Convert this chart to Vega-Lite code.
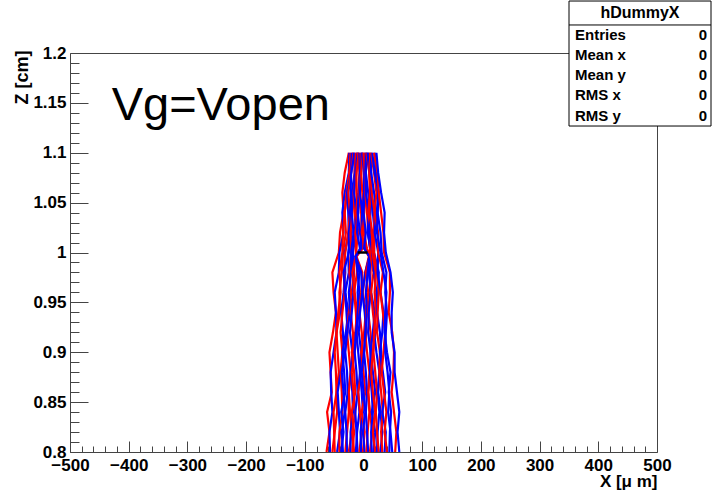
{
"$schema": "https://vega.github.io/schema/vega-lite/v6.json",
"width": 587, "height": 399,
"autosize": {"type": "none"},
"padding": {"left": 70, "top": 53, "right": 56, "bottom": 42},
"background": "white",
"config": {"view": {"stroke": "#444", "strokeWidth": 1}},
"datasets": {
"traj": [
{"t":1,"c":"r","z":0.8,"x":-63},{"t":1,"c":"r","z":0.82,"x":-58},{"t":1,"c":"r","z":0.84,"x":-62},{"t":1,"c":"r","z":0.86,"x":-54},{"t":1,"c":"r","z":0.88,"x":-56},{"t":1,"c":"r","z":0.9,"x":-58},{"t":1,"c":"r","z":0.92,"x":-52},{"t":1,"c":"r","z":0.94,"x":-47},{"t":1,"c":"r","z":0.96,"x":-51},{"t":1,"c":"r","z":0.98,"x":-53},{"t":1,"c":"r","z":1.0,"x":-42},{"t":1,"c":"r","z":1.02,"x":-40},{"t":1,"c":"r","z":1.04,"x":-34},{"t":1,"c":"r","z":1.06,"x":-36},{"t":1,"c":"r","z":1.08,"x":-32},{"t":1,"c":"r","z":1.1,"x":-25},
{"t":2,"c":"b","z":0.8,"x":-57},{"t":2,"c":"b","z":0.82,"x":-58},{"t":2,"c":"b","z":0.84,"x":-53},{"t":2,"c":"b","z":0.86,"x":-55},{"t":2,"c":"b","z":0.88,"x":-56},{"t":2,"c":"b","z":0.9,"x":-51},{"t":2,"c":"b","z":0.92,"x":-46},{"t":2,"c":"b","z":0.94,"x":-47},{"t":2,"c":"b","z":0.96,"x":-49},{"t":2,"c":"b","z":0.98,"x":-42},{"t":2,"c":"b","z":1.0,"x":-41},{"t":2,"c":"b","z":1.02,"x":-34},{"t":2,"c":"b","z":1.04,"x":-36},{"t":2,"c":"b","z":1.06,"x":-32},{"t":2,"c":"b","z":1.08,"x":-25},{"t":2,"c":"b","z":1.1,"x":-24},
{"t":3,"c":"r","z":0.8,"x":-53},{"t":3,"c":"r","z":0.82,"x":-49},{"t":3,"c":"r","z":0.84,"x":-45},{"t":3,"c":"r","z":0.86,"x":-46},{"t":3,"c":"r","z":0.88,"x":-42},{"t":3,"c":"r","z":0.9,"x":-44},{"t":3,"c":"r","z":0.92,"x":-46},{"t":3,"c":"r","z":0.94,"x":-43},{"t":3,"c":"r","z":0.96,"x":-39},{"t":3,"c":"r","z":0.98,"x":-41},{"t":3,"c":"r","z":1.0,"x":-36},{"t":3,"c":"r","z":1.02,"x":-35},{"t":3,"c":"r","z":1.04,"x":-32},{"t":3,"c":"r","z":1.06,"x":-28},{"t":3,"c":"r","z":1.08,"x":-24},{"t":3,"c":"r","z":1.1,"x":-22},
{"t":4,"c":"r","z":0.8,"x":-49},{"t":4,"c":"r","z":0.82,"x":-50},{"t":4,"c":"r","z":0.84,"x":-51},{"t":4,"c":"r","z":0.86,"x":-46},{"t":4,"c":"r","z":0.88,"x":-47},{"t":4,"c":"r","z":0.9,"x":-49},{"t":4,"c":"r","z":0.92,"x":-46},{"t":4,"c":"r","z":0.94,"x":-40},{"t":4,"c":"r","z":0.96,"x":-41},{"t":4,"c":"r","z":0.98,"x":-37},{"t":4,"c":"r","z":1.0,"x":-35},{"t":4,"c":"r","z":1.02,"x":-30},{"t":4,"c":"r","z":1.04,"x":-32},{"t":4,"c":"r","z":1.06,"x":-29},{"t":4,"c":"r","z":1.08,"x":-24},{"t":4,"c":"r","z":1.1,"x":-18},
{"t":5,"c":"b","z":0.8,"x":-45},{"t":5,"c":"b","z":0.82,"x":-40},{"t":5,"c":"b","z":0.84,"x":-42},{"t":5,"c":"b","z":0.86,"x":-44},{"t":5,"c":"b","z":0.88,"x":-39},{"t":5,"c":"b","z":0.9,"x":-34},{"t":5,"c":"b","z":0.92,"x":-35},{"t":5,"c":"b","z":0.94,"x":-38},{"t":5,"c":"b","z":0.96,"x":-34},{"t":5,"c":"b","z":0.98,"x":-31},{"t":5,"c":"b","z":1.0,"x":-32},{"t":5,"c":"b","z":1.02,"x":-25},{"t":5,"c":"b","z":1.04,"x":-26},{"t":5,"c":"b","z":1.06,"x":-28},{"t":5,"c":"b","z":1.08,"x":-21},{"t":5,"c":"b","z":1.1,"x":-20},
{"t":6,"c":"r","z":0.8,"x":-41},{"t":6,"c":"r","z":0.82,"x":-41},{"t":6,"c":"r","z":0.84,"x":-36},{"t":6,"c":"r","z":0.86,"x":-37},{"t":6,"c":"r","z":0.88,"x":-39},{"t":6,"c":"r","z":0.9,"x":-36},{"t":6,"c":"r","z":0.92,"x":-39},{"t":6,"c":"r","z":0.94,"x":-36},{"t":6,"c":"r","z":0.96,"x":-32},{"t":6,"c":"r","z":0.98,"x":-33},{"t":6,"c":"r","z":1.0,"x":-31},{"t":6,"c":"r","z":1.02,"x":-26},{"t":6,"c":"r","z":1.04,"x":-23},{"t":6,"c":"r","z":1.06,"x":-26},{"t":6,"c":"r","z":1.08,"x":-21},{"t":6,"c":"r","z":1.1,"x":-17},
{"t":7,"c":"b","z":0.8,"x":-38},{"t":7,"c":"b","z":0.82,"x":-34},{"t":7,"c":"b","z":0.84,"x":-38},{"t":7,"c":"b","z":0.86,"x":-31},{"t":7,"c":"b","z":0.88,"x":-33},{"t":7,"c":"b","z":0.9,"x":-36},{"t":7,"c":"b","z":0.92,"x":-30},{"t":7,"c":"b","z":0.94,"x":-26},{"t":7,"c":"b","z":0.96,"x":-31},{"t":7,"c":"b","z":0.98,"x":-34},{"t":7,"c":"b","z":1.0,"x":-25},{"t":7,"c":"b","z":1.02,"x":-25},{"t":7,"c":"b","z":1.04,"x":-20},{"t":7,"c":"b","z":1.06,"x":-22},{"t":7,"c":"b","z":1.08,"x":-21},{"t":7,"c":"b","z":1.1,"x":-15},
{"t":8,"c":"b","z":0.8,"x":-35},{"t":8,"c":"b","z":0.82,"x":-37},{"t":8,"c":"b","z":0.84,"x":-32},{"t":8,"c":"b","z":0.86,"x":-34},{"t":8,"c":"b","z":0.88,"x":-37},{"t":8,"c":"b","z":0.9,"x":-32},{"t":8,"c":"b","z":0.92,"x":-27},{"t":8,"c":"b","z":0.94,"x":-29},{"t":8,"c":"b","z":0.96,"x":-31},{"t":8,"c":"b","z":0.98,"x":-25},{"t":8,"c":"b","z":1.0,"x":-26},{"t":8,"c":"b","z":1.02,"x":-20},{"t":8,"c":"b","z":1.04,"x":-23},{"t":8,"c":"b","z":1.06,"x":-20},{"t":8,"c":"b","z":1.08,"x":-15},{"t":8,"c":"b","z":1.1,"x":-16},
{"t":9,"c":"r","z":0.8,"x":-31},{"t":9,"c":"r","z":0.82,"x":-28},{"t":9,"c":"r","z":0.84,"x":-25},{"t":9,"c":"r","z":0.86,"x":-26},{"t":9,"c":"r","z":0.88,"x":-22},{"t":9,"c":"r","z":0.9,"x":-25},{"t":9,"c":"r","z":0.92,"x":-28},{"t":9,"c":"r","z":0.94,"x":-25},{"t":9,"c":"r","z":0.96,"x":-21},{"t":9,"c":"r","z":0.98,"x":-24},{"t":9,"c":"r","z":1.0,"x":-21},{"t":9,"c":"r","z":1.02,"x":-22},{"t":9,"c":"r","z":1.04,"x":-19},{"t":9,"c":"r","z":1.06,"x":-16},{"t":9,"c":"r","z":1.08,"x":-15},{"t":9,"c":"r","z":1.1,"x":-13},
{"t":10,"c":"b","z":0.8,"x":-28},{"t":10,"c":"b","z":0.82,"x":-29},{"t":10,"c":"b","z":0.84,"x":-31},{"t":10,"c":"b","z":0.86,"x":-27},{"t":10,"c":"b","z":0.88,"x":-28},{"t":10,"c":"b","z":0.9,"x":-31},{"t":10,"c":"b","z":0.92,"x":-28},{"t":10,"c":"b","z":0.94,"x":-23},{"t":10,"c":"b","z":0.96,"x":-25},{"t":10,"c":"b","z":0.98,"x":-21},{"t":10,"c":"b","z":1.0,"x":-21},{"t":10,"c":"b","z":1.02,"x":-17},{"t":10,"c":"b","z":1.04,"x":-20},{"t":10,"c":"b","z":1.06,"x":-18},{"t":10,"c":"b","z":1.08,"x":-14},{"t":10,"c":"b","z":1.1,"x":-10},
{"t":11,"c":"r","z":0.8,"x":-25},{"t":11,"c":"r","z":0.82,"x":-20},{"t":11,"c":"r","z":0.84,"x":-23},{"t":11,"c":"r","z":0.86,"x":-25},{"t":11,"c":"r","z":0.88,"x":-21},{"t":11,"c":"r","z":0.9,"x":-17},{"t":11,"c":"r","z":0.92,"x":-18},{"t":11,"c":"r","z":0.94,"x":-22},{"t":11,"c":"r","z":0.96,"x":-18},{"t":11,"c":"r","z":0.98,"x":-16},{"t":11,"c":"r","z":1.0,"x":-18},{"t":11,"c":"r","z":1.02,"x":-13},{"t":11,"c":"r","z":1.04,"x":-15},{"t":11,"c":"r","z":1.06,"x":-17},{"t":11,"c":"r","z":1.08,"x":-12},{"t":11,"c":"r","z":1.1,"x":-12},
{"t":12,"c":"b","z":0.8,"x":-22},{"t":12,"c":"b","z":0.82,"x":-22},{"t":12,"c":"b","z":0.84,"x":-18},{"t":12,"c":"b","z":0.86,"x":-19},{"t":12,"c":"b","z":0.88,"x":-22},{"t":12,"c":"b","z":0.9,"x":-19},{"t":12,"c":"b","z":0.92,"x":-23},{"t":12,"c":"b","z":0.94,"x":-20},{"t":12,"c":"b","z":0.96,"x":-17},{"t":12,"c":"b","z":0.98,"x":-18},{"t":12,"c":"b","z":1.0,"x":-18},{"t":12,"c":"b","z":1.02,"x":-15},{"t":12,"c":"b","z":1.04,"x":-12},{"t":12,"c":"b","z":1.06,"x":-16},{"t":12,"c":"b","z":1.08,"x":-13},{"t":12,"c":"b","z":1.1,"x":-10},
{"t":13,"c":"r","z":0.8,"x":-19},{"t":13,"c":"r","z":0.82,"x":-16},{"t":13,"c":"r","z":0.84,"x":-20},{"t":13,"c":"r","z":0.86,"x":-14},{"t":13,"c":"r","z":0.88,"x":-16},{"t":13,"c":"r","z":0.9,"x":-20},{"t":13,"c":"r","z":0.92,"x":-14},{"t":13,"c":"r","z":0.94,"x":-11},{"t":13,"c":"r","z":0.96,"x":-15},{"t":13,"c":"r","z":0.98,"x":-19},{"t":13,"c":"r","z":1.0,"x":-12},{"t":13,"c":"r","z":1.02,"x":-14},{"t":13,"c":"r","z":1.04,"x":-9},{"t":13,"c":"r","z":1.06,"x":-12},{"t":13,"c":"r","z":1.08,"x":-12},{"t":13,"c":"r","z":1.1,"x":-8},
{"t":14,"c":"r","z":0.8,"x":-16},{"t":14,"c":"r","z":0.82,"x":-19},{"t":14,"c":"r","z":0.84,"x":-14},{"t":14,"c":"r","z":0.86,"x":-17},{"t":14,"c":"r","z":0.88,"x":-20},{"t":14,"c":"r","z":0.9,"x":-15},{"t":14,"c":"r","z":0.92,"x":-11},{"t":14,"c":"r","z":0.94,"x":-13},{"t":14,"c":"r","z":0.96,"x":-16},{"t":14,"c":"r","z":0.98,"x":-11},{"t":14,"c":"r","z":1.0,"x":-13},{"t":14,"c":"r","z":1.02,"x":-9},{"t":14,"c":"r","z":1.04,"x":-13},{"t":14,"c":"r","z":1.06,"x":-9},{"t":14,"c":"r","z":1.08,"x":-7},{"t":14,"c":"r","z":1.1,"x":-9},
{"t":15,"c":"b","z":0.8,"x":-13},{"t":15,"c":"b","z":0.82,"x":-11},{"t":15,"c":"b","z":0.84,"x":-7},{"t":15,"c":"b","z":0.86,"x":-9},{"t":15,"c":"b","z":0.88,"x":-6},{"t":15,"c":"b","z":0.9,"x":-9},{"t":15,"c":"b","z":0.92,"x":-12},{"t":15,"c":"b","z":0.94,"x":-10},{"t":15,"c":"b","z":0.96,"x":-7},{"t":15,"c":"b","z":0.98,"x":-10},{"t":15,"c":"b","z":0.996,"x":-13},{"t":15,"c":"b","z":1.004,"x":-6},{"t":15,"c":"b","z":1.02,"x":-11},{"t":15,"c":"b","z":1.04,"x":-9},{"t":15,"c":"b","z":1.06,"x":-6},{"t":15,"c":"b","z":1.08,"x":-6},{"t":15,"c":"b","z":1.1,"x":-7},
{"t":16,"c":"b","z":0.8,"x":-10},{"t":16,"c":"b","z":0.82,"x":-12},{"t":16,"c":"b","z":0.84,"x":-14},{"t":16,"c":"b","z":0.86,"x":-10},{"t":16,"c":"b","z":0.88,"x":-12},{"t":16,"c":"b","z":0.9,"x":-15},{"t":16,"c":"b","z":0.92,"x":-13},{"t":16,"c":"b","z":0.94,"x":-8},{"t":16,"c":"b","z":0.96,"x":-10},{"t":16,"c":"b","z":0.98,"x":-7},{"t":16,"c":"b","z":0.996,"x":-14},{"t":16,"c":"b","z":1.004,"x":-3},{"t":16,"c":"b","z":1.02,"x":-6},{"t":16,"c":"b","z":1.04,"x":-10},{"t":16,"c":"b","z":1.06,"x":-8},{"t":16,"c":"b","z":1.08,"x":-6},{"t":16,"c":"b","z":1.1,"x":-3},
{"t":17,"c":"r","z":0.8,"x":-7},{"t":17,"c":"r","z":0.82,"x":-3},{"t":17,"c":"r","z":0.84,"x":-6},{"t":17,"c":"r","z":0.86,"x":-9},{"t":17,"c":"r","z":0.88,"x":-4},{"t":17,"c":"r","z":0.9,"x":-1},{"t":17,"c":"r","z":0.92,"x":-3},{"t":17,"c":"r","z":0.94,"x":-7},{"t":17,"c":"r","z":0.96,"x":-4},{"t":17,"c":"r","z":0.98,"x":-2},{"t":17,"c":"r","z":0.996,"x":-12},{"t":17,"c":"r","z":1.004,"x":-1},{"t":17,"c":"r","z":1.02,"x":-3},{"t":17,"c":"r","z":1.04,"x":-4},{"t":17,"c":"r","z":1.06,"x":-7},{"t":17,"c":"r","z":1.08,"x":-4},{"t":17,"c":"r","z":1.1,"x":-5},
{"t":18,"c":"b","z":0.8,"x":-4},{"t":18,"c":"b","z":0.82,"x":-5},{"t":18,"c":"b","z":0.84,"x":-1},{"t":18,"c":"b","z":0.86,"x":-3},{"t":18,"c":"b","z":0.88,"x":-6},{"t":18,"c":"b","z":0.9,"x":-4},{"t":18,"c":"b","z":0.92,"x":-8},{"t":18,"c":"b","z":0.94,"x":-6},{"t":18,"c":"b","z":0.96,"x":-2},{"t":18,"c":"b","z":0.98,"x":-4},{"t":18,"c":"b","z":0.996,"x":-13},{"t":18,"c":"b","z":1.004,"x":-4},{"t":18,"c":"b","z":1.02,"x":-4},{"t":18,"c":"b","z":1.04,"x":-2},{"t":18,"c":"b","z":1.06,"x":-6},{"t":18,"c":"b","z":1.08,"x":-4},{"t":18,"c":"b","z":1.1,"x":-3},
{"t":19,"c":"r","z":0.8,"x":-1},{"t":19,"c":"r","z":0.82,"x":2},{"t":19,"c":"r","z":0.84,"x":-3},{"t":19,"c":"r","z":0.86,"x":3},{"t":19,"c":"r","z":0.88,"x":0},{"t":19,"c":"r","z":0.9,"x":-4},{"t":19,"c":"r","z":0.92,"x":1},{"t":19,"c":"r","z":0.94,"x":4},{"t":19,"c":"r","z":0.96,"x":-1},{"t":19,"c":"r","z":0.98,"x":3},{"t":19,"c":"r","z":0.996,"x":9},{"t":19,"c":"r","z":1.004,"x":2},{"t":19,"c":"r","z":1.02,"x":-3},{"t":19,"c":"r","z":1.04,"x":1},{"t":19,"c":"r","z":1.06,"x":-2},{"t":19,"c":"r","z":1.08,"x":-4},{"t":19,"c":"r","z":1.1,"x":-1},
{"t":20,"c":"b","z":0.8,"x":2},{"t":20,"c":"b","z":0.82,"x":-1},{"t":20,"c":"b","z":0.84,"x":3},{"t":20,"c":"b","z":0.86,"x":0},{"t":20,"c":"b","z":0.88,"x":-3},{"t":20,"c":"b","z":0.9,"x":1},{"t":20,"c":"b","z":0.92,"x":5},{"t":20,"c":"b","z":0.94,"x":2},{"t":20,"c":"b","z":0.96,"x":-2},{"t":20,"c":"b","z":0.98,"x":3},{"t":20,"c":"b","z":0.996,"x":10},{"t":20,"c":"b","z":1.004,"x":4},{"t":20,"c":"b","z":1.02,"x":2},{"t":20,"c":"b","z":1.04,"x":-2},{"t":20,"c":"b","z":1.06,"x":1},{"t":20,"c":"b","z":1.08,"x":1},{"t":20,"c":"b","z":1.1,"x":-2},
{"t":21,"c":"r","z":0.8,"x":5},{"t":21,"c":"r","z":0.82,"x":7},{"t":21,"c":"r","z":0.84,"x":10},{"t":21,"c":"r","z":0.86,"x":8},{"t":21,"c":"r","z":0.88,"x":10},{"t":21,"c":"r","z":0.9,"x":6},{"t":21,"c":"r","z":0.92,"x":3},{"t":21,"c":"r","z":0.94,"x":5},{"t":21,"c":"r","z":0.96,"x":8},{"t":21,"c":"r","z":0.98,"x":4},{"t":21,"c":"r","z":0.996,"x":11},{"t":21,"c":"r","z":1.004,"x":6},{"t":21,"c":"r","z":1.02,"x":0},{"t":21,"c":"r","z":1.04,"x":1},{"t":21,"c":"r","z":1.06,"x":4},{"t":21,"c":"r","z":1.08,"x":2},{"t":21,"c":"r","z":1.1,"x":0},
{"t":22,"c":"b","z":0.8,"x":8},{"t":22,"c":"b","z":0.82,"x":6},{"t":22,"c":"b","z":0.84,"x":4},{"t":22,"c":"b","z":0.86,"x":6},{"t":22,"c":"b","z":0.88,"x":4},{"t":22,"c":"b","z":0.9,"x":1},{"t":22,"c":"b","z":0.92,"x":3},{"t":22,"c":"b","z":0.94,"x":6},{"t":22,"c":"b","z":0.96,"x":4},{"t":22,"c":"b","z":0.98,"x":7},{"t":22,"c":"b","z":0.996,"x":10},{"t":22,"c":"b","z":1.004,"x":1},{"t":22,"c":"b","z":1.02,"x":4},{"t":22,"c":"b","z":1.04,"x":0},{"t":22,"c":"b","z":1.06,"x":2},{"t":22,"c":"b","z":1.08,"x":2},{"t":22,"c":"b","z":1.1,"x":3},
{"t":23,"c":"r","z":0.8,"x":11},{"t":23,"c":"r","z":0.82,"x":15},{"t":23,"c":"r","z":0.84,"x":11},{"t":23,"c":"r","z":0.86,"x":8},{"t":23,"c":"r","z":0.88,"x":12},{"t":23,"c":"r","z":0.9,"x":14},{"t":23,"c":"r","z":0.92,"x":12},{"t":23,"c":"r","z":0.94,"x":8},{"t":23,"c":"r","z":0.96,"x":11},{"t":23,"c":"r","z":0.98,"x":12},{"t":23,"c":"r","z":1.0,"x":12},{"t":23,"c":"r","z":1.02,"x":8},{"t":23,"c":"r","z":1.04,"x":6},{"t":23,"c":"r","z":1.06,"x":3},{"t":23,"c":"r","z":1.08,"x":4},{"t":23,"c":"r","z":1.1,"x":2},
{"t":24,"c":"b","z":0.8,"x":14},{"t":24,"c":"b","z":0.82,"x":13},{"t":24,"c":"b","z":0.84,"x":16},{"t":24,"c":"b","z":0.86,"x":14},{"t":24,"c":"b","z":0.88,"x":11},{"t":24,"c":"b","z":0.9,"x":12},{"t":24,"c":"b","z":0.92,"x":8},{"t":24,"c":"b","z":0.94,"x":9},{"t":24,"c":"b","z":0.96,"x":12},{"t":24,"c":"b","z":0.98,"x":10},{"t":24,"c":"b","z":1.0,"x":13},{"t":24,"c":"b","z":1.02,"x":7},{"t":24,"c":"b","z":1.04,"x":9},{"t":24,"c":"b","z":1.06,"x":4},{"t":24,"c":"b","z":1.08,"x":4},{"t":24,"c":"b","z":1.1,"x":4},
{"t":25,"c":"b","z":0.8,"x":17},{"t":25,"c":"b","z":0.82,"x":20},{"t":25,"c":"b","z":0.84,"x":14},{"t":25,"c":"b","z":0.86,"x":20},{"t":25,"c":"b","z":0.88,"x":16},{"t":25,"c":"b","z":0.9,"x":12},{"t":25,"c":"b","z":0.92,"x":16},{"t":25,"c":"b","z":0.94,"x":19},{"t":25,"c":"b","z":0.96,"x":13},{"t":25,"c":"b","z":0.98,"x":9},{"t":25,"c":"b","z":1.0,"x":12},{"t":25,"c":"b","z":1.02,"x":8},{"t":25,"c":"b","z":1.04,"x":11},{"t":25,"c":"b","z":1.06,"x":8},{"t":25,"c":"b","z":1.08,"x":4},{"t":25,"c":"b","z":1.1,"x":6},
{"t":26,"c":"r","z":0.8,"x":20},{"t":26,"c":"r","z":0.82,"x":16},{"t":26,"c":"r","z":0.84,"x":20},{"t":26,"c":"r","z":0.86,"x":16},{"t":26,"c":"r","z":0.88,"x":13},{"t":26,"c":"r","z":0.9,"x":16},{"t":26,"c":"r","z":0.92,"x":20},{"t":26,"c":"r","z":0.94,"x":16},{"t":26,"c":"r","z":0.96,"x":13},{"t":26,"c":"r","z":0.98,"x":17},{"t":26,"c":"r","z":1.0,"x":11},{"t":26,"c":"r","z":1.02,"x":13},{"t":26,"c":"r","z":1.04,"x":8},{"t":26,"c":"r","z":1.06,"x":11},{"t":26,"c":"r","z":1.08,"x":10},{"t":26,"c":"r","z":1.1,"x":5},
{"t":27,"c":"b","z":0.8,"x":23},{"t":27,"c":"b","z":0.82,"x":24},{"t":27,"c":"b","z":0.84,"x":27},{"t":27,"c":"b","z":0.86,"x":24},{"t":27,"c":"b","z":0.88,"x":27},{"t":27,"c":"b","z":0.9,"x":22},{"t":27,"c":"b","z":0.92,"x":18},{"t":27,"c":"b","z":0.94,"x":20},{"t":27,"c":"b","z":0.96,"x":22},{"t":27,"c":"b","z":0.98,"x":18},{"t":27,"c":"b","z":1.0,"x":15},{"t":27,"c":"b","z":1.02,"x":10},{"t":27,"c":"b","z":1.04,"x":12},{"t":27,"c":"b","z":1.06,"x":14},{"t":27,"c":"b","z":1.08,"x":10},{"t":27,"c":"b","z":1.1,"x":7},
{"t":28,"c":"r","z":0.8,"x":26},{"t":28,"c":"r","z":0.82,"x":23},{"t":28,"c":"r","z":0.84,"x":21},{"t":28,"c":"r","z":0.86,"x":23},{"t":28,"c":"r","z":0.88,"x":20},{"t":28,"c":"r","z":0.9,"x":17},{"t":28,"c":"r","z":0.92,"x":18},{"t":28,"c":"r","z":0.94,"x":21},{"t":28,"c":"r","z":0.96,"x":19},{"t":28,"c":"r","z":0.98,"x":21},{"t":28,"c":"r","z":1.0,"x":15},{"t":28,"c":"r","z":1.02,"x":15},{"t":28,"c":"r","z":1.04,"x":10},{"t":28,"c":"r","z":1.06,"x":12},{"t":28,"c":"r","z":1.08,"x":10},{"t":28,"c":"r","z":1.1,"x":10},
{"t":29,"c":"b","z":0.8,"x":29},{"t":29,"c":"b","z":0.82,"x":32},{"t":29,"c":"b","z":0.84,"x":29},{"t":29,"c":"b","z":0.86,"x":25},{"t":29,"c":"b","z":0.88,"x":28},{"t":29,"c":"b","z":0.9,"x":30},{"t":29,"c":"b","z":0.92,"x":28},{"t":29,"c":"b","z":0.94,"x":23},{"t":29,"c":"b","z":0.96,"x":25},{"t":29,"c":"b","z":0.98,"x":26},{"t":29,"c":"b","z":1.0,"x":18},{"t":29,"c":"b","z":1.02,"x":19},{"t":29,"c":"b","z":1.04,"x":16},{"t":29,"c":"b","z":1.06,"x":13},{"t":29,"c":"b","z":1.08,"x":13},{"t":29,"c":"b","z":1.1,"x":8},
{"t":30,"c":"r","z":0.8,"x":32},{"t":30,"c":"r","z":0.82,"x":30},{"t":30,"c":"r","z":0.84,"x":33},{"t":30,"c":"r","z":0.86,"x":30},{"t":30,"c":"r","z":0.88,"x":27},{"t":30,"c":"r","z":0.9,"x":28},{"t":30,"c":"r","z":0.92,"x":23},{"t":30,"c":"r","z":0.94,"x":24},{"t":30,"c":"r","z":0.96,"x":26},{"t":30,"c":"r","z":0.98,"x":23},{"t":30,"c":"r","z":1.0,"x":18},{"t":30,"c":"r","z":1.02,"x":18},{"t":30,"c":"r","z":1.04,"x":19},{"t":30,"c":"r","z":1.06,"x":14},{"t":30,"c":"r","z":1.08,"x":12},{"t":30,"c":"r","z":1.1,"x":11},
{"t":31,"c":"b","z":0.8,"x":36},{"t":31,"c":"b","z":0.82,"x":38},{"t":31,"c":"b","z":0.84,"x":32},{"t":31,"c":"b","z":0.86,"x":37},{"t":31,"c":"b","z":0.88,"x":33},{"t":31,"c":"b","z":0.9,"x":28},{"t":31,"c":"b","z":0.92,"x":32},{"t":31,"c":"b","z":0.94,"x":34},{"t":31,"c":"b","z":0.96,"x":29},{"t":31,"c":"b","z":0.98,"x":24},{"t":31,"c":"b","z":1.0,"x":25},{"t":31,"c":"b","z":1.02,"x":19},{"t":31,"c":"b","z":1.04,"x":22},{"t":31,"c":"b","z":1.06,"x":18},{"t":31,"c":"b","z":1.08,"x":13},{"t":31,"c":"b","z":1.1,"x":13},
{"t":32,"c":"r","z":0.8,"x":40},{"t":32,"c":"r","z":0.82,"x":36},{"t":32,"c":"r","z":0.84,"x":39},{"t":32,"c":"r","z":0.86,"x":35},{"t":32,"c":"r","z":0.88,"x":31},{"t":32,"c":"r","z":0.9,"x":34},{"t":32,"c":"r","z":0.92,"x":37},{"t":32,"c":"r","z":0.94,"x":33},{"t":32,"c":"r","z":0.96,"x":29},{"t":32,"c":"r","z":0.98,"x":33},{"t":32,"c":"r","z":1.0,"x":25},{"t":32,"c":"r","z":1.02,"x":25},{"t":32,"c":"r","z":1.04,"x":19},{"t":32,"c":"r","z":1.06,"x":22},{"t":32,"c":"r","z":1.08,"x":18},{"t":32,"c":"r","z":1.1,"x":13},
{"t":33,"c":"b","z":0.8,"x":44},{"t":33,"c":"b","z":0.82,"x":45},{"t":33,"c":"b","z":0.84,"x":47},{"t":33,"c":"b","z":0.86,"x":43},{"t":33,"c":"b","z":0.88,"x":46},{"t":33,"c":"b","z":0.9,"x":40},{"t":33,"c":"b","z":0.92,"x":36},{"t":33,"c":"b","z":0.94,"x":37},{"t":33,"c":"b","z":0.96,"x":39},{"t":33,"c":"b","z":0.98,"x":34},{"t":33,"c":"b","z":1.0,"x":29},{"t":33,"c":"b","z":1.02,"x":23},{"t":33,"c":"b","z":1.04,"x":24},{"t":33,"c":"b","z":1.06,"x":26},{"t":33,"c":"b","z":1.08,"x":19},{"t":33,"c":"b","z":1.1,"x":15},
{"t":34,"c":"b","z":0.8,"x":49},{"t":34,"c":"b","z":0.82,"x":46},{"t":34,"c":"b","z":0.84,"x":42},{"t":34,"c":"b","z":0.86,"x":44},{"t":34,"c":"b","z":0.88,"x":41},{"t":34,"c":"b","z":0.9,"x":37},{"t":34,"c":"b","z":0.92,"x":38},{"t":34,"c":"b","z":0.94,"x":40},{"t":34,"c":"b","z":0.96,"x":37},{"t":34,"c":"b","z":0.98,"x":39},{"t":34,"c":"b","z":1.0,"x":31},{"t":34,"c":"b","z":1.02,"x":29},{"t":34,"c":"b","z":1.04,"x":24},{"t":34,"c":"b","z":1.06,"x":25},{"t":34,"c":"b","z":1.08,"x":21},{"t":34,"c":"b","z":1.1,"x":19},
{"t":35,"c":"r","z":0.8,"x":54},{"t":35,"c":"r","z":0.82,"x":56},{"t":35,"c":"r","z":0.84,"x":52},{"t":35,"c":"r","z":0.86,"x":48},{"t":35,"c":"r","z":0.88,"x":51},{"t":35,"c":"r","z":0.9,"x":52},{"t":35,"c":"r","z":0.92,"x":49},{"t":35,"c":"r","z":0.94,"x":43},{"t":35,"c":"r","z":0.96,"x":45},{"t":35,"c":"r","z":0.98,"x":45},{"t":35,"c":"r","z":1.0,"x":35},{"t":35,"c":"r","z":1.02,"x":34},{"t":35,"c":"r","z":1.04,"x":30},{"t":35,"c":"r","z":1.06,"x":26},{"t":35,"c":"r","z":1.08,"x":24},{"t":35,"c":"r","z":1.1,"x":18},
{"t":36,"c":"b","z":0.8,"x":61},{"t":36,"c":"b","z":0.82,"x":58},{"t":36,"c":"b","z":0.84,"x":61},{"t":36,"c":"b","z":0.86,"x":57},{"t":36,"c":"b","z":0.88,"x":53},{"t":36,"c":"b","z":0.9,"x":53},{"t":36,"c":"b","z":0.92,"x":48},{"t":36,"c":"b","z":0.94,"x":48},{"t":36,"c":"b","z":0.96,"x":50},{"t":36,"c":"b","z":0.98,"x":46},{"t":36,"c":"b","z":1.0,"x":38},{"t":36,"c":"b","z":1.02,"x":35},{"t":36,"c":"b","z":1.04,"x":36},{"t":36,"c":"b","z":1.06,"x":30},{"t":36,"c":"b","z":1.08,"x":25},{"t":36,"c":"b","z":1.1,"x":22}
]
},
"layer": [
{
"data": {"name": "traj"},
"mark": {"type": "line", "strokeWidth": 2.2, "strokeJoin": "miter"},
"encoding": {
"x": {"field": "x", "type": "quantitative",
"scale": {"domain": [-500, 500], "nice": false, "zero": false},
"axis": {"orient": "bottom", "values": [-500,-400,-300,-200,-100,0,100,200,300,400,500],
"tickSize": -11, "tickColor": "#444", "domain": false, "grid": false,
"labelFont": "Liberation Sans", "labelFontWeight": "bold", "labelFontSize": 17, "labelColor": "#000",
"labelPadding": 16, "labelFlush": false, "labelOverlap": false,
"title": "X [μ m]", "titleFont": "Liberation Sans", "titleFontWeight": "bold", "titleFontSize": 17, "titleColor": "#000",
"titleAnchor": "end", "titleAlign": "right", "titleX": 587, "titleY": 34, "titleBaseline": "alphabetic"}},
"y": {"field": "z", "type": "quantitative",
"scale": {"domain": [0.8, 1.2], "nice": false, "zero": false},
"axis": {"orient": "left", "values": [0.8,0.85,0.9,0.95,1.0,1.05,1.1,1.15,1.2], "format": "~g",
"tickSize": -18, "tickColor": "#444", "domain": false, "grid": false,
"labelFont": "Liberation Sans", "labelFontWeight": "bold", "labelFontSize": 17, "labelColor": "#000",
"labelPadding": 22, "labelFlush": false, "labelOverlap": false,
"title": "Z [cm]", "titleFont": "Liberation Sans", "titleFontWeight": "bold", "titleFontSize": 18, "titleColor": "#000",
"titleAngle": 270, "titleAlign": "right", "titleBaseline": "alphabetic", "titleX": -43, "titleY": -3}},
"color": {"field": "c", "type": "nominal", "scale": {"domain": ["r", "b"], "range": ["#ff0000", "#0000ff"]}, "legend": null},
"detail": {"field": "t", "type": "nominal"},
"order": {"field": "z", "type": "quantitative"}
}
},
{
"data": {"values": [{}]},
"mark": {"type": "rule", "color": "#000", "strokeWidth": 2.5},
"encoding": {
"x": {"datum": -10, "type": "quantitative",
"axis": {"orient": "bottom", "values": [-480,-460,-440,-420,-380,-360,-340,-320,-280,-260,-240,-220,-180,-160,-140,-120,-80,-60,-40,-20,20,40,60,80,120,140,160,180,220,240,260,280,320,340,360,380,420,440,460,480],
"tickSize": -6, "tickColor": "#444", "domain": false, "grid": false, "labels": false, "title": null}},
"x2": {"datum": 7},
"y": {"datum": 1.0, "type": "quantitative",
"axis": {"orient": "left", "values": [0.81,0.82,0.83,0.84,0.86,0.87,0.88,0.89,0.91,0.92,0.93,0.94,0.96,0.97,0.98,0.99,1.01,1.02,1.03,1.04,1.06,1.07,1.08,1.09,1.11,1.12,1.13,1.14,1.16,1.17,1.18,1.19],
"tickSize": -9, "tickColor": "#444", "domain": false, "grid": false, "labels": false, "title": null}}
}
},
{
"data": {"values": [{}]},
"mark": {"type": "text", "font": "Liberation Sans", "fontSize": 47, "align": "left", "baseline": "alphabetic", "color": "#000"},
"encoding": {
"x": {"datum": -429, "type": "quantitative", "axis": null},
"y": {"datum": 1.1328, "type": "quantitative", "axis": null},
"text": {"value": "Vg=Vopen"}
}
},
{
"data": {"values": [{}]},
"mark": {"type": "rect", "fill": "#fff", "stroke": "#000", "strokeWidth": 1},
"encoding": {
"x": {"datum": 350.1, "type": "quantitative", "axis": null},
"x2": {"datum": 592},
"y": {"datum": 1.2521, "type": "quantitative", "axis": null},
"y2": {"datum": 1.1268}
}
},
{
"data": {"values": [{}]},
"mark": {"type": "rule", "color": "#000", "strokeWidth": 1},
"encoding": {
"x": {"datum": 350.1, "type": "quantitative", "axis": null},
"x2": {"datum": 592},
"y": {"datum": 1.2281, "type": "quantitative", "axis": null}
}
},
{
"data": {"values": [{}]},
"mark": {"type": "text", "font": "Liberation Sans", "fontWeight": "bold", "fontSize": 16, "align": "center", "baseline": "alphabetic", "color": "#000"},
"encoding": {
"x": {"datum": 471, "type": "quantitative", "axis": null},
"y": {"datum": 1.2351, "type": "quantitative", "axis": null},
"text": {"value": "hDummyX"}
}
},
{
"data": {"values": [{}]},
"mark": {"type": "text", "font": "Liberation Sans", "fontWeight": "bold", "fontSize": 15, "align": "left", "baseline": "alphabetic", "lineHeight": 20.05, "color": "#000"},
"encoding": {
"x": {"datum": 360.3, "type": "quantitative", "axis": null},
"y": {"datum": 1.2127, "type": "quantitative", "axis": null},
"text": {"value": ["Entries", "Mean x", "Mean y", "RMS x", "RMS y"]}
}
},
{
"data": {"values": [{}]},
"mark": {"type": "text", "font": "Liberation Sans", "fontWeight": "bold", "fontSize": 15, "align": "right", "baseline": "alphabetic", "lineHeight": 20.05, "color": "#000"},
"encoding": {
"x": {"datum": 585.2, "type": "quantitative", "axis": null},
"y": {"datum": 1.2127, "type": "quantitative", "axis": null},
"text": {"value": ["0", "0", "0", "0", "0"]}
}
}
],
"resolve": {"axis": {"x": "independent", "y": "independent"}}
}
